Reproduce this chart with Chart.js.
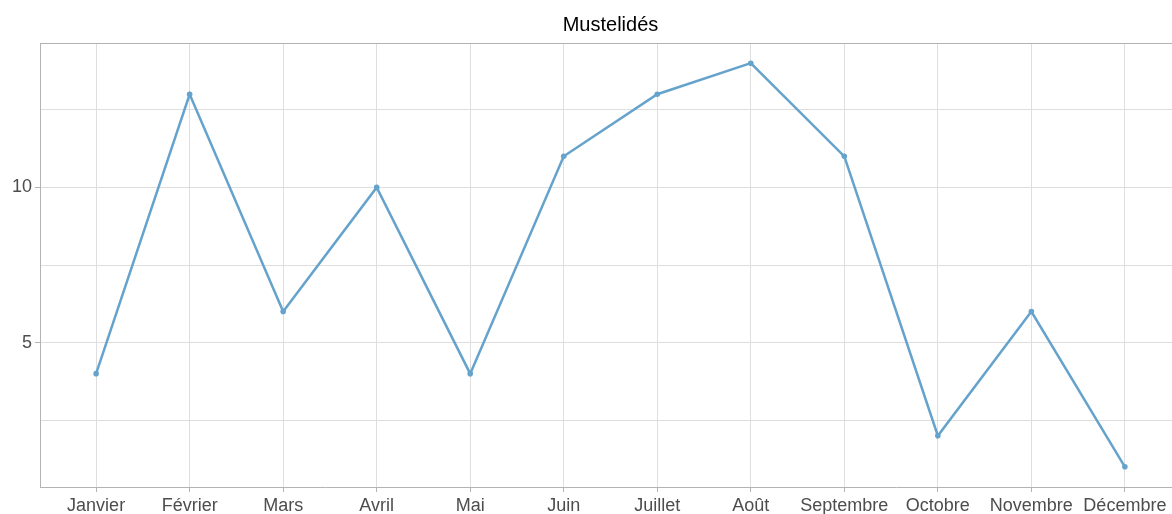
<!DOCTYPE html>
<html lang="fr">
<head>
    <meta charset="UTF-8">
    <title>Mustelidés</title>
    <script src="https://cdn.jsdelivr.net/npm/chart.js"></script>
    <style>
        html, body {
            margin: 0;
            padding: 0;
            overflow: hidden;
            background: #ffffff;
        }
        #grafico {
            display: block;
        }
    </style>
</head>
<body>

<canvas id="grafico" width="1200" height="514"></canvas>

<script>
// Dati
const mesi = ['Janvier', 'Février', 'Mars', 'Avril', 'Mai', 'Juin', 'Juillet', 'Août', 'Septembre', 'Octobre', 'Novembre', 'Décembre'];
const valori = [4, 13, 6, 10, 4, 11, 13, 14, 11, 2, 6, 1];
const tickY = [2.5, 5, 7.5, 10, 12.5];
const etichetteY = [5, 10];

const yMin = 0.35;
const yMax = 14.65;

const grigioBordo = '#b3b3b3';
const grigioGriglia = '#dedede';
const colTesto = '#4d4d4d';

const punti = valori.map((v, i) => ({ x: i, y: v }));

let ctx = document.getElementById('grafico').getContext('2d');
let chart = new Chart(ctx, {
    type: 'line',
    data: {
        datasets: [{
            label: 'Mustelidés',
            data: punti,
            borderColor: '#65a3cc',
            backgroundColor: '#65a3cc',
            borderWidth: 2.5,
            pointRadius: 2.8,
            pointBorderWidth: 0,
            fill: false,
            tension: 0
        }]
    },
    options: {
        responsive: false,
        animation: false,
        devicePixelRatio: 1,
        layout: { padding: { left: 0, right: 19, top: 0, bottom: 0 } },
        plugins: {
            legend: { display: false },
            tooltip: { enabled: false },
            title: {
                display: true,
                fullSize: false,
                text: 'Mustelidés',
                color: '#000000',
                font: { family: 'Liberation Sans, Arial, sans-serif', size: 20, weight: 'normal' },
                padding: { top: 13, bottom: 6 }
            }
        },
        scales: {
            x: {
                type: 'linear',
                min: -0.6,
                max: mesi.length - 1 + 0.6,
                afterBuildTicks: (scale) => {
                    scale.ticks = mesi.map((_, i) => ({ value: i }));
                },
                afterFit: (scale) => { scale.height = 27; },
                grid: {
                    color: grigioGriglia,
                    tickColor: grigioBordo,
                    tickLength: 5,
                    lineWidth: 1
                },
                border: { color: grigioBordo, width: 1 },
                ticks: {
                    autoSkip: false,
                    maxRotation: 0,
                    padding: 3,
                    color: colTesto,
                    font: { family: 'Liberation Sans, Arial, sans-serif', size: 18 },
                    callback: (v) => mesi[v]
                }
            },
            y: {
                min: yMin,
                max: yMax,
                afterBuildTicks: (scale) => {
                    scale.ticks = tickY.concat([yMax]).map(v => ({ value: v }));
                },
                afterFit: (scale) => { scale.width = 40; },
                grid: {
                    color: (c) => c.tick && c.tick.value === yMax ? grigioBordo : grigioGriglia,
                    tickColor: (c) => c.tick && etichetteY.includes(c.tick.value) ? grigioBordo : 'rgba(0,0,0,0)',
                    tickLength: 5,
                    lineWidth: 1
                },
                border: { color: grigioBordo, width: 1 },
                ticks: {
                    padding: 3,
                    color: colTesto,
                    font: { family: 'Liberation Sans, Arial, sans-serif', size: 18 },
                    callback: (v) => etichetteY.includes(v) ? v : ''
                }
            }
        }
    }
});
</script>

</body>
</html>
